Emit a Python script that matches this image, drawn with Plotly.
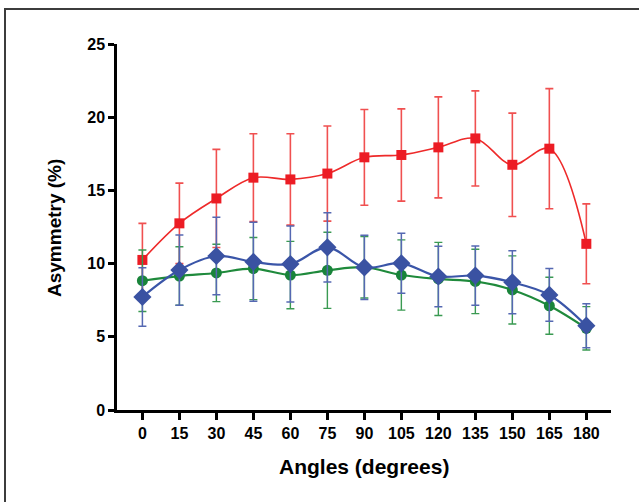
import plotly.graph_objects as go

angles = [0, 15, 30, 45, 60, 75, 90, 105, 120, 135, 150, 165, 180]
tick_labels = [str(a) for a in angles]

red_mean = [10.25, 12.75, 14.45, 15.87, 15.75, 16.15, 17.26, 17.42, 17.94, 18.55, 16.75, 17.85, 11.35]
red_err = [2.5, 2.75, 3.35, 3.0, 3.12, 3.25, 3.27, 3.15, 3.45, 3.25, 3.53, 4.1, 2.73]

green_mean = [8.83, 9.15, 9.36, 9.66, 9.22, 9.54, 9.75, 9.22, 8.95, 8.78, 8.2, 7.12, 5.58]
green_err = [2.1, 2.0, 1.96, 2.12, 2.3, 2.6, 2.1, 2.4, 2.5, 2.2, 2.33, 1.95, 1.48]

blue_mean = [7.72, 9.56, 10.52, 10.12, 9.97, 11.11, 9.74, 10.02, 9.12, 9.18, 8.72, 7.86, 5.76]
blue_err = [2.0, 2.4, 2.64, 2.7, 2.6, 2.37, 2.2, 2.05, 2.07, 2.02, 2.15, 1.8, 1.5]

y_ticks = [0, 5, 10, 15, 20, 25]

FONT = "Arial, Liberation Sans, Helvetica, sans-serif"

fig = go.Figure()

fig.add_trace(go.Scatter(
    x=angles, y=red_mean, mode="lines+markers",
    line=dict(color="#ee2a2a", width=1.6, shape="spline", smoothing=1.0),
    marker=dict(symbol="square", size=10, color="#ec1c24"),
    error_y=dict(type="data", array=red_err, visible=True, color="#f05050", thickness=1.6, width=4),
    showlegend=False,
))
fig.add_trace(go.Scatter(
    x=angles, y=green_mean, mode="lines+markers",
    line=dict(color="#1f8a3c", width=2.2, shape="spline", smoothing=1.0),
    marker=dict(symbol="circle", size=11, color="#19843a"),
    error_y=dict(type="data", array=green_err, visible=True, color="#3a9a52", thickness=1.4, width=4),
    showlegend=False,
))
fig.add_trace(go.Scatter(
    x=angles, y=blue_mean, mode="lines+markers",
    line=dict(color="#3a55a8", width=2.2, shape="spline", smoothing=1.0),
    marker=dict(symbol="diamond", size=14, color="#3a52a2"),
    error_y=dict(type="data", array=blue_err, visible=True, color="#5568b2", thickness=1.5, width=4),
    showlegend=False,
))

fig.update_layout(
    width=639, height=502,
    margin=dict(l=117, r=28, t=44, b=92),
    paper_bgcolor="white", plot_bgcolor="white",
    font=dict(family=FONT, color="black"),
    xaxis=dict(
        range=[-10.3, 190], tickmode="array", tickvals=angles, ticktext=tick_labels,
        showgrid=False, zeroline=False, showline=True, linecolor="black", linewidth=2.5,
        ticks="outside", ticklen=7, tickwidth=2.5, tickcolor="black",
        tickfont=dict(family=FONT, size=16, color="black", weight="bold"),
    ),
    yaxis=dict(
        range=[0, 25], tickmode="array", tickvals=y_ticks, ticktext=[str(v) for v in y_ticks],
        showgrid=False, zeroline=False, showline=True, linecolor="black", linewidth=2.5,
        ticks="outside", ticklen=6, tickwidth=2.5, tickcolor="black",
        tickfont=dict(family=FONT, size=16, color="black", weight="bold"),
    ),
    annotations=[
        dict(text="Angles (degrees)", xref="paper", yref="paper",
             x=(364 - 117) / 494, y=(410 - 466) / 366, xanchor="center", yanchor="middle",
             showarrow=False, font=dict(family=FONT, size=21, color="black", weight="bold")),
        dict(text="Asymmetry (%)", xref="paper", yref="paper",
             x=(54 - 117) / 494, y=(410 - 228) / 366, xanchor="center", yanchor="middle",
             textangle=-90, showarrow=False,
             font=dict(family=FONT, size=19, color="black", weight="bold")),
    ],
    shapes=[
        dict(type="rect", xref="paper", yref="paper",
             x0=(5 - 117) / 494, x1=(660 - 117) / 494,
             y0=(410 - 530) / 366, y1=(410 - 9) / 366,
             line=dict(color="#3c3c3c", width=2), fillcolor="rgba(0,0,0,0)", layer="below"),
    ],
)

fig.write_html("out.html", config={"displayModeBar": False},
               post_script="document.body.style.margin='0';document.body.style.padding='0';")
